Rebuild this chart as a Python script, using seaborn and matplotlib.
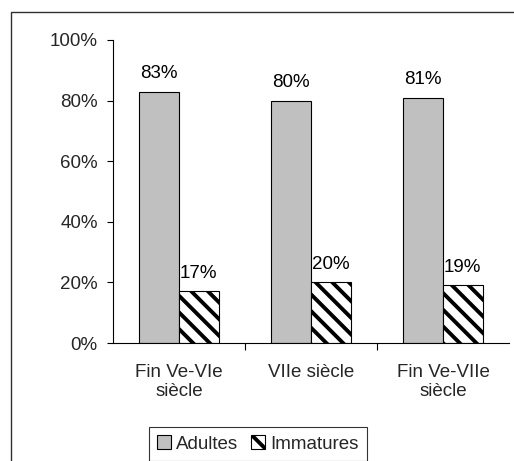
import pandas as pd
import numpy as np
import matplotlib
matplotlib.use("Agg")
import matplotlib.pyplot as plt
import matplotlib.patches as mpatches
from matplotlib.ticker import FuncFormatter
import seaborn as sns

# Data
periodes = ["Fin Ve-VIe\nsiècle", "VIIe siècle", "Fin Ve-VIIe\nsiècle"]
adultes = [83, 80, 81]
immatures = [17, 20, 19]
groupes = ["Adultes", "Immatures"]

df = pd.DataFrame({
    "periode": periodes * 2,
    "groupe": [groupes[0]] * 3 + [groupes[1]] * 3,
    "pct": adultes + immatures,
})

sns.set_style("white")
plt.rcParams["font.family"] = ["Liberation Sans", "DejaVu Sans"]
plt.rcParams["hatch.linewidth"] = 2.8
plt.rcParams["hatch.color"] = "#202020"

fig = plt.figure(figsize=(5.14, 4.61), dpi=100)
ax = fig.add_axes([113 / 514, 1 - 343 / 461, 396 / 514, 303 / 461])

sns.barplot(data=df, x="periode", y="pct", hue="groupe", order=periodes,
            hue_order=groupes, palette=["#c0c0c0", "white"], width=0.6,
            edgecolor="black", linewidth=0.8, legend=False, ax=ax)

# hatch the Immatures bars
for bar in ax.containers[1]:
    bar.set_hatch("\\\\")

for cont, vals in zip(ax.containers, [adultes, immatures]):
    ax.bar_label(cont, labels=[f"{v}%" for v in vals], padding=7,
                 fontsize=13.5, color="black")

ax.set_ylim(0, 100)
ax.set_xlim(-0.5, 2.5)
ax.set_yticks(np.arange(0, 101, 20))
ax.yaxis.set_major_formatter(FuncFormatter(lambda v, p: f"{v:.0f}%"))
ax.tick_params(axis="y", direction="out", length=4, width=0.8, pad=7,
               labelsize=13.5, left=True, color="black")
ax.set_xticks([0.5, 1.5], minor=True)
ax.tick_params(axis="x", which="minor", direction="out", length=5, width=0.8,
               bottom=True, color="black")
ax.tick_params(axis="x", which="major", length=0, pad=15, labelsize=13.5)
ax.set_xlabel("")
ax.set_ylabel("")

sns.despine(ax=ax)
for s in ["left", "bottom"]:
    ax.spines[s].set_color("black")
    ax.spines[s].set_linewidth(0.8)

fig.legend(ax.containers, groupes, loc="upper center",
           bbox_to_anchor=(258 / 514, 1 - 427 / 461), ncol=2, frameon=True,
           fancybox=False, edgecolor="black", fontsize=13.5,
           handlelength=0.7, handleheight=0.7, handletextpad=0.3,
           columnspacing=0.7, borderpad=0.45, borderaxespad=0)
leg = fig.legends[0]
leg.get_frame().set_linewidth(0.8)

# chart area border
fig.patches.append(mpatches.Rectangle((11 / 514, -0.2), 1.2, 1.2 - 12 / 461,
                                      transform=fig.transFigure, fill=False,
                                      edgecolor="#303030", linewidth=1.0))

fig.savefig("out.png", dpi=100)
